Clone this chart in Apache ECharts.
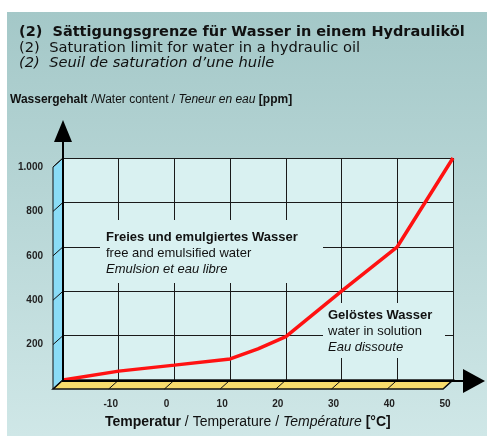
<!DOCTYPE html>
<html><head><meta charset="utf-8">
<script src="https://cdn.jsdelivr.net/npm/echarts@6/dist/echarts.min.js"></script>
<style>html,body{margin:0;padding:0;background:#fff}#c{width:487px;height:436px}</style>
</head><body><div id="c"></div>
<script>
// ---- data ----
const temperature = [-20, -10, 0, 10, 15, 20, 30, 40, 50];
const waterContent = [0, 40, 67, 95, 140, 195, 400, 600, 1000];
const xTicks = [-20, -10, 0, 10, 20, 30, 40, 50];
const yTicks = [0, 200, 400, 600, 800, 1000];
const titleLines = [
  '(2)  Sättigungsgrenze für Wasser in einem Hydrauliköl',
  '(2)  Saturation limit for water in a hydraulic oil',
  '(2)  Seuil de saturation d\u2019une huile'
];
const yTitle = ['Wassergehalt', ' /Water content / ', 'Teneur en eau', ' [ppm]'];
const xTitle = ['Temperatur', ' / Temperature / ', 'Température', ' [°C]'];
const freeLabel = ['Freies und emulgiertes Wasser', 'free and emulsified water', 'Emulsion et eau libre'];
const solLabel = ['Gelöstes Wasser', 'water in solution', 'Eau dissoute'];

const FONT = '"Liberation Sans", Arial, Helvetica, sans-serif';
const TFONT = '"DejaVu Sans", "Liberation Sans", sans-serif';
const PLOT_BG = '#d9f1f1';
const chart = echarts.init(document.getElementById('c'), null, {renderer: 'canvas'});

chart.setOption({
  backgroundColor: '#ffffff',
  animation: false,
  grid: {left: 63, top: 158, width: 390, height: 222, show: true, backgroundColor: PLOT_BG, borderWidth: 0},
  xAxis: {
    type: 'value', min: -20, max: 50, interval: 10,
    axisLine: {show: false}, axisTick: {show: false},
    splitLine: {show: true, lineStyle: {color: '#1a1a1a', width: 1}},
    axisLabel: {
      formatter: v => v === -20 ? '' : String(v),
      color: '#222', fontWeight: 'bold', fontSize: 10, fontFamily: FONT,
      margin: 19, padding: [0, 16, 0, 0]
    }
  },
  yAxis: {
    type: 'value', min: 0, max: 1000, interval: 200,
    axisLine: {show: false}, axisTick: {show: false},
    splitLine: {show: true, lineStyle: {color: '#1a1a1a', width: 1}},
    axisLabel: {
      formatter: v => v === 0 ? '' : (v >= 1000 ? '1.000' : String(v)),
      color: '#222', fontWeight: 'bold', fontSize: 10, fontFamily: FONT,
      margin: 20, verticalAlign: 'top', lineHeight: 18
    }
  },
  series: [{
    type: 'line', data: temperature.map((t, i) => [t, waterContent[i]]),
    symbol: 'none', z: 5,
    lineStyle: {color: '#ff1212', width: 3.5}
  }]
});

function buildGraphics() {
  const g = (x, y) => chart.convertToPixel({gridIndex: 0}, [x, y]);
  const o = g(-20, 0), xr = g(50, 0), yt = g(-20, 1000);
  const dx = -10, dy = 9;
  const els = [];
  // panel background
  els.push({type: 'rect', z: -10, shape: {x: 7, y: 12, width: 480, height: 424},
    style: {fill: new echarts.graphic.LinearGradient(0, 0, 0, 1, [
      {offset: 0, color: '#a4c8c8'}, {offset: 1, color: '#cfe7e7'}])}});
  // wall
  els.push({type: 'polygon', z: 1, shape: {points: [yt, o, [o[0] + dx, o[1] + dy], [yt[0] + dx, yt[1] + dy]]},
    style: {fill: '#8adcf6', stroke: '#111', lineWidth: 1}});
  // floor
  els.push({type: 'polygon', z: 1, shape: {points: [o, xr, [xr[0] + dx, xr[1] + dy], [o[0] + dx, o[1] + dy]]},
    style: {fill: '#f8dc6c', stroke: '#111', lineWidth: 1.5}});
  yTicks.forEach(v => {
    const p = g(-20, v);
    els.push({type: 'line', z: 2, shape: {x1: p[0], y1: p[1], x2: p[0] + dx, y2: p[1] + dy}, style: {stroke: '#111', lineWidth: 1}});
  });
  xTicks.forEach(v => {
    const p = g(v, 0);
    els.push({type: 'line', z: 2, shape: {x1: p[0], y1: p[1], x2: p[0] + dx, y2: p[1] + dy}, style: {stroke: '#111', lineWidth: 1}});
  });
  // axis lines + arrows
  els.push({type: 'line', z: 6, shape: {x1: o[0], y1: o[1] + 1, x2: o[0], y2: yt[1] - 17}, style: {stroke: '#000', lineWidth: 2}});
  els.push({type: 'polygon', z: 6, shape: {points: [[o[0] - 9, yt[1] - 16], [o[0] + 9, yt[1] - 16], [o[0], yt[1] - 38]]}, style: {fill: '#000'}});
  els.push({type: 'line', z: 6, shape: {x1: o[0] - 1, y1: o[1] + 1, x2: xr[0] + 11, y2: o[1] + 1}, style: {stroke: '#000', lineWidth: 2}});
  els.push({type: 'polygon', z: 6, shape: {points: [[xr[0] + 10, o[1] - 11], [xr[0] + 10, o[1] + 13], [xr[0] + 32, o[1] + 1]]}, style: {fill: '#000'}});
  // titles
  const tstyles = [{fontWeight: 'bold', fontSize: 14.5}, {fontWeight: 'normal', fontSize: 14.7}, {fontStyle: 'italic', fontSize: 14.7}];
  const tys = [32, 48, 63];
  titleLines.forEach((t, i) => {
    els.push({type: 'text', z: 6, x: 19, y: tys[i], style: Object.assign({text: t, fill: '#111', fontFamily: TFONT, verticalAlign: 'middle'}, tstyles[i])});
  });
  const rich4 = (fs) => ({
    b: {fontWeight: 'bold', fontSize: fs, fontFamily: FONT, fill: '#111'},
    r: {fontWeight: 'normal', fontSize: fs, fontFamily: FONT, fill: '#111'},
    i: {fontStyle: 'italic', fontSize: fs, fontFamily: FONT, fill: '#111'}
  });
  els.push({type: 'text', z: 6, x: 10, y: 100, style: {
    text: `{b|${yTitle[0]}}{r|${yTitle[1]}}{i|${yTitle[2]}}{b|${yTitle[3]}}`,
    rich: rich4(12), verticalAlign: 'middle'}});
  els.push({type: 'text', z: 6, x: 105, y: 422, style: {
    text: `{b|${xTitle[0]}}{r|${xTitle[1]}}{i|${xTitle[2]}}{b|${xTitle[3]}}`,
    rich: rich4(14), verticalAlign: 'middle'}});
  // annotation boxes
  const rich3 = {
    b: {fontWeight: 'bold', fontSize: 13, fontFamily: FONT, fill: '#111', lineHeight: 16},
    r: {fontWeight: 'normal', fontSize: 13, fontFamily: FONT, fill: '#111', lineHeight: 16},
    i: {fontStyle: 'italic', fontSize: 13, fontFamily: FONT, fill: '#111', lineHeight: 16}
  };
  els.push({type: 'rect', z: 3, shape: {x: 100, y: 220, width: 223, height: 63}, style: {fill: PLOT_BG}});
  els.push({type: 'text', z: 4, x: 106, y: 229, style: {
    text: `{b|${freeLabel[0]}}\n{r|${freeLabel[1]}}\n{i|${freeLabel[2]}}`, rich: rich3, verticalAlign: 'top'}});
  els.push({type: 'rect', z: 3, shape: {x: 323, y: 303, width: 122, height: 55}, style: {fill: PLOT_BG}});
  els.push({type: 'text', z: 4, x: 328, y: 307, style: {
    text: `{b|${solLabel[0]}}\n{r|${solLabel[1]}}\n{i|${solLabel[2]}}`, rich: rich3, verticalAlign: 'top'}});
  chart.setOption({graphic: {elements: els}});
}
buildGraphics();
</script></body></html>
